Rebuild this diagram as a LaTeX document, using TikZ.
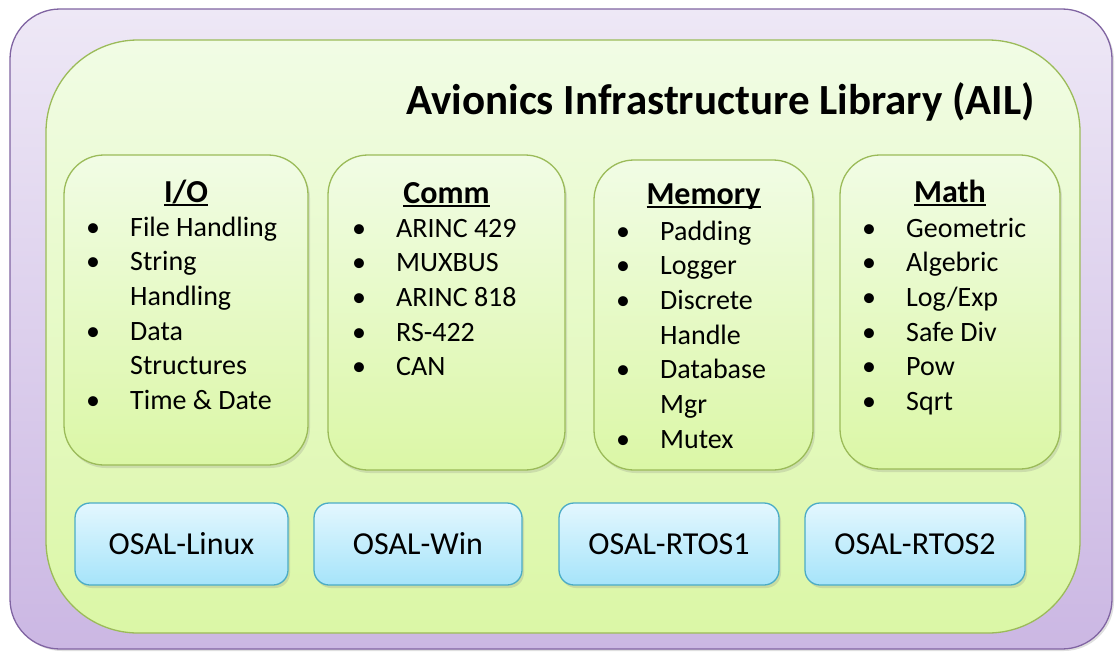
\documentclass[tikz,border=0pt]{standalone}
\usepackage{fontspec}
\setmainfont{Carlito}
\usetikzlibrary{shadows}

\definecolor{frameline}{HTML}{8064A2}
\definecolor{frametop}{HTML}{EEE8F6}
\definecolor{framebot}{HTML}{CBB7E3}
\definecolor{libline}{HTML}{9BBB59}
\definecolor{libtop}{HTML}{F1FCE5}
\definecolor{libbot}{HTML}{DBF7A6}
\definecolor{osalline}{HTML}{4BACC6}
\definecolor{osaltop}{HTML}{E3F7FE}
\definecolor{osalbot}{HTML}{A6E4FA}

% heading underline: a 2pt rule just under the baseline
\newcommand\headline[1]{\setbox0\hbox{#1}\rlap{\rule[-4pt]{\wd0}{2pt}}\box0}

% one bullet list; entries are flag/text, flag 1 = line with a bullet
\newcommand\bulletlist[5]{%
  \foreach \b/\t [count=\i] in {#5} {
    \node[itemtext, anchor=base west] (#1-\i) at (#3, {#4+34.7*(\i-1)}) {\t};
    \ifnum\b=1
      \node[itemtext, anchor=base] (#1-dot\i) at (#2, {#4+34.7*(\i-1)}) {•};
    \fi
  }%
}

\tikzset{
  frame/.style={draw=frameline, line width=1.3pt, rounded corners=50pt,
    top color=frametop, bottom color=framebot,
    drop shadow={opacity=0.25, shadow xshift=2pt, shadow yshift=-2pt}},
  library/.style={draw=libline, line width=1.3pt, rounded corners=92pt,
    top color=libtop, bottom color=libbot},
  module/.style={draw=libline, line width=1.3pt, rounded corners=40pt,
    top color=libtop, bottom color=libbot,
    drop shadow={opacity=0.22, shadow xshift=2pt, shadow yshift=-3pt}},
  osal/.style={draw=osalline, line width=1.3pt, rounded corners=15pt,
    top color=osaltop, bottom color=osalbot,
    drop shadow={opacity=0.22, shadow xshift=2pt, shadow yshift=-3pt},
    font=\fontsize{32}{38}\selectfont},
  itemtext/.style={inner sep=0pt, font=\fontsize{28}{34}\selectfont},
  headtext/.style={inner sep=0pt, font=\fontsize{32}{38}\selectfont\bfseries},
  titletext/.style={inner sep=0pt, font=\fontsize{43}{50}\selectfont\bfseries},
  box/.style={inner sep=0pt, outer sep=0pt, anchor=north west},
}

\begin{document}
\begin{tikzpicture}[x=1pt, y=-1pt]
  \useasboundingbox (0,0) rectangle (1115,653);

  % outer frame and library body
  \node[frame, box, minimum width=1102pt, minimum height=640pt] (frame) at (10,9) {};
  \node[library, box, minimum width=1034pt, minimum height=593pt] (ail) at (46,40) {};
  \node[titletext, anchor=base east] (title) at (1035,114) {Avionics Infrastructure Library (AIL)};

  % module boxes
  \node[module, box, minimum width=244pt, minimum height=310pt] (io) at (64,155) {};
  \node[module, box, minimum width=237pt, minimum height=315pt] (comm) at (328,155) {};
  \node[module, box, minimum width=219pt, minimum height=310pt] (mem) at (594,160) {};
  \node[module, box, minimum width=220pt, minimum height=314pt] (math) at (840,155) {};

  % module headings
  \node[headtext, anchor=base] (io-h) at (186,202) {\headline{I/O}};
  \node[headtext, anchor=base] (comm-h) at (446.5,203) {\headline{Comm}};
  \node[headtext, anchor=base] (mem-h) at (703.5,204) {\headline{Memory}};
  \node[headtext, anchor=base] (math-h) at (950,202) {\headline{Math}};

  % module contents
  \bulletlist{io}{93}{130}{236}{1/File Handling, 1/String, 0/Handling, 1/Data, 0/Structures, 1/Time \& Date}
  \bulletlist{comm}{359}{396}{237}{1/ARINC 429, 1/MUXBUS, 1/ARINC 818, 1/RS-422, 1/CAN}
  \bulletlist{mem}{623}{660}{240}{1/Padding, 1/Logger, 1/Discrete, 0/Handle, 1/Database, 0/Mgr, 1/Mutex}
  \bulletlist{math}{869}{906}{237}{1/Geometric, 1/Algebric, 1/{Log/Exp}, 1/Safe Div, 1/Pow, 1/Sqrt}

  % OS abstraction layers
  \node[osal, box, minimum width=213pt, minimum height=82pt] (linux) at (75,503) {OSAL-Linux};
  \node[osal, box, minimum width=208pt, minimum height=82pt] (win) at (314,503) {OSAL-Win};
  \node[osal, box, minimum width=220pt, minimum height=82pt] (rtos1) at (559,503) {OSAL-RTOS1};
  \node[osal, box, minimum width=220pt, minimum height=82pt] (rtos2) at (805,503) {OSAL-RTOS2};
\end{tikzpicture}
\end{document}
